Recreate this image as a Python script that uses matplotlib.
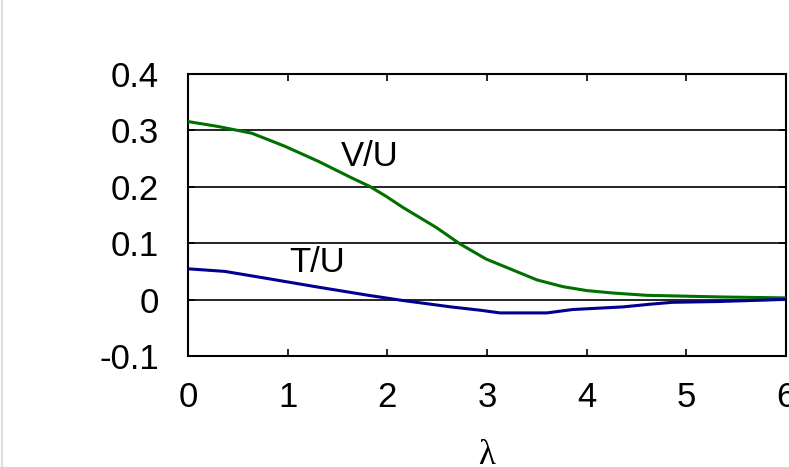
import matplotlib.pyplot as plt
from matplotlib.lines import Line2D

# values
lam_v = [0.0, 0.30, 0.64, 0.97, 1.31, 1.64, 1.82, 1.98, 2.16, 2.49, 2.73, 2.99, 3.23, 3.50,
         3.76, 4.0, 4.27, 4.60, 5.37, 6.0]
v_over_u = [0.3157, 0.307, 0.295, 0.272, 0.245, 0.216, 0.201, 0.184, 0.163, 0.128, 0.0986,
            0.072, 0.0546, 0.035, 0.023, 0.016, 0.0116, 0.0076, 0.0046, 0.003]

lam_t = [0.0, 0.37, 0.81, 1.31, 1.81, 2.14, 2.64, 2.94, 3.13, 3.60, 3.86, 4.36, 4.63, 4.86,
         5.3, 5.8, 6.0]
t_over_u = [0.0546, 0.050, 0.037, 0.022, 0.0076, -0.0012, -0.013, -0.019, -0.0236, -0.0236,
            -0.0176, -0.013, -0.0083, -0.0048, -0.0035, -0.0008, 0.0005]

x_ticks = [0, 1, 2, 3, 4, 5, 6]
y_ticks = [-0.1, 0, 0.1, 0.2, 0.3, 0.4]
y_labels = ['-0.1', '0', '0.1', '0.2', '0.3', '0.4']

plt.rcParams['font.family'] = ['Liberation Sans', 'DejaVu Sans']

fig = plt.figure(figsize=(7.89, 4.67), dpi=100)
ax = fig.add_axes([188 / 789, 1 - 356 / 467, 598 / 789, 282 / 467])

ax.plot(lam_v, v_over_u, color='#007000', lw=2.2, zorder=3)
ax.plot(lam_t, t_over_u, color='#000090', lw=2.2, zorder=3)

ax.text(1.825, 0.254, 'V/U', fontsize=25, ha='center', va='center')
ax.text(1.294, 0.0657, 'T/U', fontsize=25, ha='center', va='center')

ax.set_xlim(0, 6)
ax.set_ylim(-0.1, 0.4)
ax.set_xticks(x_ticks)
ax.set_yticks(y_ticks)
ax.set_yticklabels(y_labels)
ax.yaxis.grid(True, color='black', lw=1.2)
ax.set_axisbelow(True)

ax.tick_params(axis='x', direction='in', length=5, width=1.2, labelsize=25, pad=18,
               top=True, bottom=True)
ax.tick_params(axis='y', direction='in', length=5, width=1.2, labelsize=25, pad=21,
               left=True, right=True)
for s in ax.spines.values():
    s.set_linewidth(1.5)

ax.set_xlabel('λ', fontsize=25, family=['Liberation Serif', 'DejaVu Serif'], labelpad=18)

# faint edge line at the very left of the picture
fig.add_artist(Line2D([0.002, 0.002], [0, 1], color='#dddddd', lw=1.5, transform=fig.transFigure))

fig.savefig('out.png', dpi=100)
